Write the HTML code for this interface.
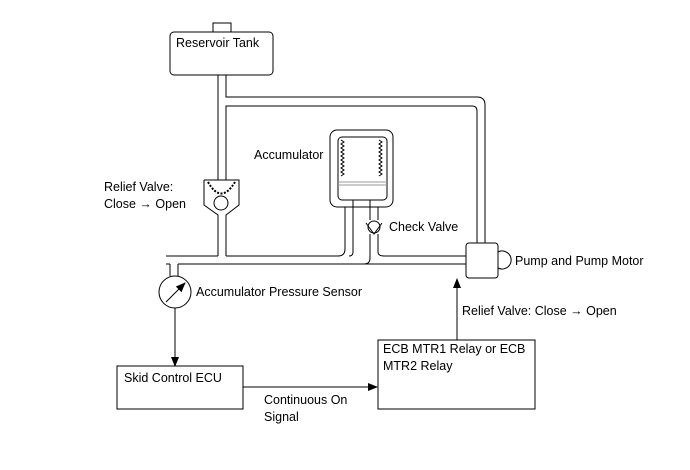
<!DOCTYPE html>
<html><head><style>
body{margin:0;background:#fff;}
svg text{font-family:"Liberation Sans",sans-serif;font-size:12.5px;fill:#000;}
</style></head><body>
<svg width="690" height="465" viewBox="0 0 690 465" xmlns="http://www.w3.org/2000/svg">
<defs><marker id="ar" markerWidth="10" markerHeight="10" refX="9" refY="4" orient="auto" markerUnits="userSpaceOnUse"><path d="M0,0 L10,4 L0,8 z" fill="#000"/></marker></defs>
<g fill="none" stroke="#000" stroke-width="1">
<rect x="213" y="23" width="18" height="9" fill="#fff"/>
<rect x="170" y="32" width="103" height="43" rx="4" fill="#fff"/>
<path d="M218,75 V180"/>
<path d="M226,75 V97 H477 Q485,97 485,105 V243"/>
<path d="M226,180 V106 H472 Q477,106 477,111 V243"/>
<path d="M204,180 H239 V205 L226,215 V256 M204,180 V205 L218,215 V256"/>
<path d="M208,182 Q221,205 235,182" stroke-dasharray="2,1.5" stroke-width="2"/>
<circle cx="221" cy="203" r="7" fill="#fff"/>
<path d="M166,256 H218 M226,256 H338 Q345,256 345,249 V207"/>
<path d="M166,264 H170 M178,264 H466"/>
<path d="M353,200 V252 Q353,256 349,256 M353,200 H370"/>
<path d="M370,200 V220 M370,234 V258 Q370,264 364,264"/>
<path d="M378,207 V220 M378,234 V252 Q378,256 384,256 H466"/>
<circle cx="374" cy="227" r="6" fill="#fff"/>
<path d="M366,223 L374,234 L382,223"/>
<rect x="330" y="130" width="63" height="77" rx="7"/>
<rect x="338" y="137" width="49" height="63" rx="4"/>
<path d="M338,182 H387 M338,185 H387" stroke="#999"/>
<path d="M341,140 l3,2 l-3,2 l3,2 l-3,2 l3,2 l-3,2 l3,2 l-3,2 l3,2 l-3,2 l3,2 l-3,2 l3,2 l-3,2 l3,2 l-3,2 l3,2 l-3,2"/>
<path d="M379,140 l3,2 l-3,2 l3,2 l-3,2 l3,2 l-3,2 l3,2 l-3,2 l3,2 l-3,2 l3,2 l-3,2 l3,2 l-3,2 l3,2 l-3,2 l3,2 l-3,2"/>
<rect x="466" y="243" width="32" height="35" rx="3" fill="#fff"/>
<path d="M498,252 A9,9 0 1 1 498,268"/>
<path d="M170,264 V276 M178,264 V276"/>
<circle cx="175" cy="292" r="16" fill="#fff"/>
<path d="M166,302 L185,283" marker-end="url(#ar)"/>
<path d="M175,308 V366" marker-end="url(#ar)"/>
<rect x="117" y="366" width="126" height="43"/>
<rect x="378" y="340" width="157" height="69"/>
<path d="M243,387 H377" marker-end="url(#ar)"/>
<path d="M457,340 V279" marker-end="url(#ar)"/>
</g>
<text x="176" y="47">Reservoir Tank</text>
<text x="254" y="159">Accumulator</text>
<text x="104" y="191">Relief Valve:</text>
<text x="104" y="208">Close → Open</text>
<text x="389" y="231">Check Valve</text>
<text x="515" y="265">Pump and Pump Motor</text>
<text x="196" y="296">Accumulator Pressure Sensor</text>
<text x="462" y="315">Relief Valve: Close → Open</text>
<text x="124" y="382">Skid Control ECU</text>
<text x="383" y="353">ECB MTR1 Relay or ECB</text>
<text x="383" y="370">MTR2 Relay</text>
<text x="264" y="404">Continuous On</text>
<text x="264" y="421">Signal</text>
</svg>
</body></html>
